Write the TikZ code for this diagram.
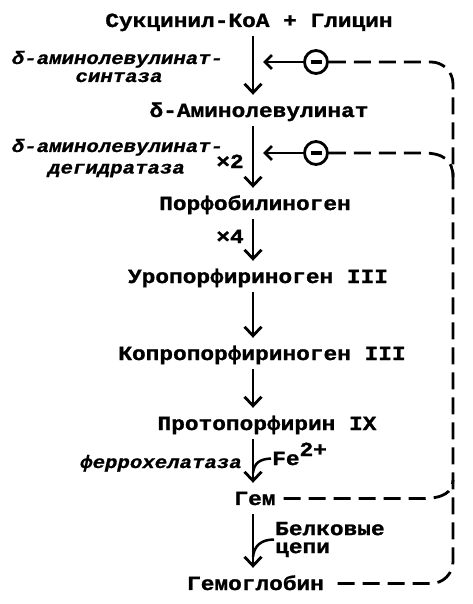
\documentclass[tikz,border=0pt]{standalone}
\usepackage{fontspec}
\usetikzlibrary{arrows.meta}
\newfontfamily\mf{Liberation Mono}[FakeStretch=1.14, FakeBold=1.3]
\newfontfamily\itf{Liberation Mono}[FakeStretch=1.15, FakeBold=1]
\begin{document}
\begin{tikzpicture}[x=1pt,y=-1pt,
  main/.style={font=\mf\bfseries\fontsize{20}{24}\selectfont, anchor=base, inner xsep=0pt, inner ysep=9pt, text height=13pt, text depth=0pt},
  enz/.style={font=\itf\bfseries\itshape\fontsize{18}{22}\selectfont, anchor=base, inner sep=0pt},
  arr/.style={line width=2.8pt, -{Straight Barb[length=9pt,width=17pt]}},
  inh/.style={line width=2.8pt, -{Straight Barb[length=7pt,width=14pt]}},
  inhib/.style={circle, draw, line width=2.8pt, minimum size=23pt, inner sep=0pt},
  fb/.style={line width=2.8pt, dash pattern=on 17pt off 8pt},
  hook/.style={line width=2.5pt}
]
\useasboundingbox (0,0) rectangle (473,604);
\coordinate (col) at (253,0);
\coordinate (busx) at (453,0);
% main chain
\node[main] (s)   at (249,27)  {Сукцинил-КоА + Глицин};
\node[main] (ala) at (259,117) {δ-Аминолевулинат};
\node[main] (pbg) at (255,210) {Порфобилиноген};
\node[main] (uro) at (258,283) {Уропорфириноген III};
\node[main] (cop) at (262,360) {Копропорфириноген III};
\node[main] (pro) at (267,430) {Протопорфирин IX};
\node[main,inner xsep=8pt] (gem) at (255,505) {Гем};
\node[main,inner xsep=7pt] (hb)  at (255.5,590) {Гемоглобин};
% side labels
\node[enz] (e1a) at (117.5,64) {δ-аминолевулинат-};
\node[enz] (e1b) at (119,82) {синтаза};
\node[enz] (e2a) at (117.5,152) {δ-аминолевулинат-};
\node[enz] (e2b) at (116.5,173.5) {дегидратаза};
\node[enz] (e3) at (161,468) {феррохелатаза};
\node[main,inner ysep=0pt] (x2) at (230,168) {×2};
\node[main,inner ysep=0pt] (x4) at (230,243) {×4};
\node[main,anchor=base west,inner ysep=0pt,inner xsep=1pt] (fe) at (271,465) {Fe\raisebox{9pt}{2+}};
\node[font=\mf\bfseries\fontsize{20}{18}\selectfont, align=left, anchor=west, inner sep=0pt] (bel) at (275,539.5) {Белковые\\цепи};
% arrows
\draw[arr] (s.south -| col) -- (ala.north -| col);
\draw[arr] (ala.south -| col) -- (pbg.north -| col);
\draw[arr] (pbg.south -| col) -- (uro.north -| col);
\draw[arr] (uro.south -| col) -- (cop.north -| col);
\draw[arr] (cop.south -| col) -- (pro.north -| col);
\draw[arr] (pro.south -| col) -- (gem.north -| col);
\draw[arr] (gem.south -| col) -- (hb.north -| col);
% hooks
\coordinate (h1) at (253,473);
\draw[hook] (h1) .. controls (254,463) and (260,459) .. (fe.west);
\coordinate (h2) at (253,557);
\draw[hook] (h2) .. controls (254,546) and (261,539.5) .. ([xshift=-1pt]bel.west);
% inhibitors
\node[inhib] (c1) at (316,62) {\rule[-2.2pt]{11pt}{4.4pt}};
\node[inhib] (c2) at (316,153) {\rule[-2.2pt]{11pt}{4.4pt}};
\coordinate (t1) at (263,62);
\coordinate (t2) at (263,153);
\draw[inh] (c1.west) -- (t1);
\draw[inh] (c2.west) -- (t2);
% feedback
\draw[fb, rounded corners=22pt] (c1.east) -- (c1.east -| busx) -- (hb.east -| busx) -- (hb.east);
\coordinate (j2) at (453,177);
\draw[fb] (c2.east) -- (423,153) .. controls (443,153) and (453,160) .. (j2);
\coordinate (j3) at (453,480);
\draw[fb] (gem.east) -- (423,498.5) .. controls (443,498.5) and (453,492) .. (j3);
\end{tikzpicture}
\end{document}
